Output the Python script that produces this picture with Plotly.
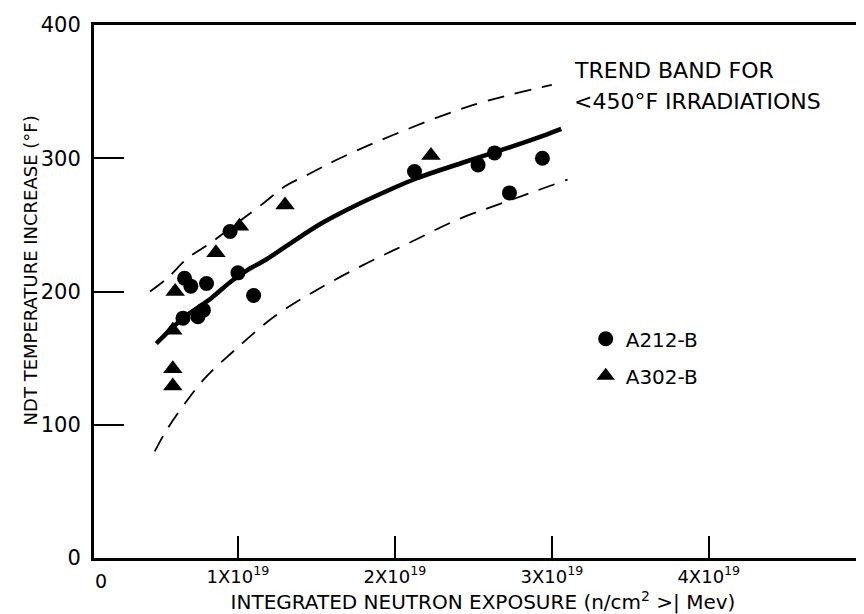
import plotly.graph_objects as go

# ---- data (x in units of 1e19 n/cm^2, y in deg F) ----
a212_x = [0.95, 0.66, 0.70, 0.80, 1.00, 1.10, 0.65, 0.745, 0.78, 2.125, 2.53, 2.635, 2.94, 2.73]
a212_y = [245, 210, 204, 206, 214, 197, 180, 181, 186, 290, 295, 304, 300, 274]

a302_x = [1.30, 1.01, 0.86, 0.60, 0.585, 0.585, 0.585, 2.23]
a302_y = [265, 249, 229, 200, 171, 142, 129, 302]

trend_x = [0.48, 0.65, 0.83, 0.95, 1.06, 1.18, 1.32, 1.53, 1.74, 1.96, 2.14, 2.44, 2.70, 2.97, 3.06]
trend_y = [161, 180, 195, 207, 216, 224, 235, 251, 264, 276, 285, 297, 307, 318, 322]

upper_x = [0.44, 0.55, 0.68, 0.82, 0.98, 1.16, 1.30, 1.45, 1.65, 2.00, 2.50, 3.00]
upper_y = [200, 210, 225, 236, 250, 266, 279, 288, 300, 318, 340, 355]

lower_x = [0.47, 0.54, 0.65, 0.79, 0.97, 1.23, 1.50, 1.80, 2.10, 2.40, 2.70, 3.10]
lower_y = [80, 95, 114, 135, 155, 181, 201, 220, 237, 254, 267, 284]

x_tickvals = [1, 2, 3, 4]
x_ticktext = ["1X10<sup>19</sup>", "2X10<sup>19</sup>", "3X10<sup>19</sup>", "4X10<sup>19</sup>"]
y_tickvals = [0, 100, 200, 300, 400]

FONT = "DejaVu Sans"

fig = go.Figure()
fig.add_trace(go.Scatter(x=upper_x, y=upper_y, mode="lines", showlegend=False,
                         line=dict(color="black", width=1.8, dash="17px,11px", shape="spline"),
                         hoverinfo="skip"))
fig.add_trace(go.Scatter(x=lower_x, y=lower_y, mode="lines", showlegend=False,
                         line=dict(color="black", width=1.8, dash="17px,11px", shape="spline"),
                         hoverinfo="skip"))
fig.add_trace(go.Scatter(x=trend_x, y=trend_y, mode="lines", showlegend=False,
                         line=dict(color="black", width=4.5, shape="spline"), hoverinfo="skip"))
fig.add_trace(go.Scatter(x=a212_x, y=a212_y, mode="markers", name="A212-B", legendgroup="a",
                         marker=dict(symbol="circle", size=15, color="black")))
fig.add_trace(go.Scatter(x=a302_x, y=a302_y, mode="markers", name="A302-B", legendgroup="b",
                         marker=dict(symbol="triangle-up", size=17, color="black")))

fig.update_layout(
    width=864, height=614,
    margin=dict(l=86, r=0, t=17, b=64),
    paper_bgcolor="white", plot_bgcolor="white",
    font=dict(family=FONT, color="black", size=18),
    legend=dict(x=0.632, y=0.448, xanchor="left", yanchor="top",
                font=dict(size=20, family=FONT), tracegroupgap=8,
                bgcolor="rgba(0,0,0,0)"),
    xaxis=dict(range=[0.083, 5.04], showgrid=False, zeroline=False,
               showline=True, linecolor="black", linewidth=3, mirror=True,
               ticks="inside", ticklen=22, tickwidth=2, tickcolor="black",
               tickvals=x_tickvals, ticktext=x_ticktext,
               tickfont=dict(size=18, family=FONT),
               title=dict(text="INTEGRATED NEUTRON EXPOSURE (n/cm<sup>2</sup> >| Mev)",
                          font=dict(size=20, family=FONT), standoff=10)),
    yaxis=dict(range=[0, 400], showgrid=False, zeroline=False,
               showline=True, linecolor="black", linewidth=3, mirror=False,
               ticks="inside", ticklen=30, tickwidth=2, tickcolor="black",
               tickvals=y_tickvals, tickfont=dict(size=21, family=FONT),
               ticklabelstandoff=6),
    annotations=[
        dict(text="NDT TEMPERATURE INCREASE (°F)", textangle=-90, xref="paper", yref="paper",
             x=-0.082, y=0.54, xanchor="center", yanchor="middle", showarrow=False,
             font=dict(size=18, family=FONT)),
        dict(text="0", xref="x", yref="paper", x=0.127, y=0, yanchor="top", yshift=-10,
             showarrow=False, font=dict(size=19, family=FONT)),
        dict(text="TREND BAND FOR", xref="paper", yref="paper", x=0.614, y=(550 - 62.5) / 533,
             xanchor="left", yanchor="middle", showarrow=False, font=dict(size=22, family=FONT)),
        dict(text="&lt;450°F IRRADIATIONS", xref="paper", yref="paper", x=0.614, y=(550 - 94) / 533,
             xanchor="left", yanchor="middle", showarrow=False, font=dict(size=22, family=FONT)),
    ],
)

fig.write_html("out.html")
